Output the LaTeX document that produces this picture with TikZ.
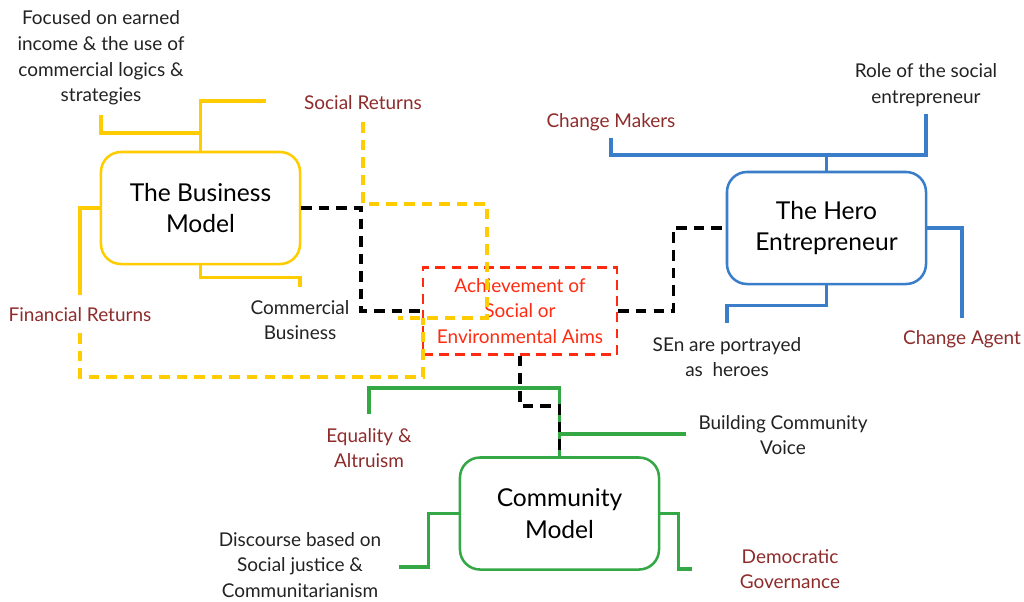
\documentclass[tikz,border=0pt]{standalone}
\usepackage{fontspec}
\setmainfont{Lato}
\usepackage{xcolor}
\usepackage{tikz}
\usetikzlibrary{calc,positioning}

\definecolor{bmyellow}{HTML}{FFCC00}
\definecolor{heroblue}{HTML}{3A7DC9}
\definecolor{cmgreen}{HTML}{34A845}
\definecolor{aimred}{HTML}{FF2A10}
\definecolor{labelred}{HTML}{8E2B2B}
\definecolor{textgray}{HTML}{222222}

\begin{document}
\begin{tikzpicture}[
    x=0.025cm, y=-0.025cm,%pixel grid, y down
    model/.style={
        rectangle, % shape
        rounded corners=0.5cm,
        minimum width=4.975cm, minimum height=2.8cm,
        inner sep=0pt,
        line width=1.8pt, %border
        fill=white,
        align=center,
        text=black,
        font=\fontsize{17.5}{22.5}\selectfont
      },
    aimbox/.style={
        rectangle,
        minimum width=4.85cm, minimum height=2.175cm,
        inner sep=0pt,
        draw=aimred, line width=1.9pt,
        dash pattern=on 7pt off 4.5pt,
        align=center,
        text=aimred,
        font=\fontsize{13.5}{18.3}\selectfont
      },
    lbl/.style={align=center, text=textgray, inner sep=1pt,
        font=\fontsize{13.5}{18.3}\selectfont},
    rlbl/.style={lbl, text=labelred},
    % the brackets
    bar/.style={line width=2.2pt},
    dline/.style={line width=2.5pt, dash pattern=on 7.5pt off 5pt}
  ]
  \useasboundingbox (0,0) rectangle (1024,601);

  % the three models and the aims
  \node (bm) [model, draw=bmyellow] at (200.5,208) {The Business\\Model};
  \node (hero) [model, draw=heroblue] at (826.5,228) {The Hero\\Entrepreneur};
  \node (cm) [model, draw=cmgreen] at (559.5,513.5) {Community\\Model};
  \node (aims) [aimbox] at (520,311) {Achievement of\\Social or\\Environmental Aims};

  % labels
  \node (foc) [lbl] at (101,58) {Focused on earned\\income \& the use of\\commercial logics \&\\strategies};
  \node (soc) [rlbl] at (363,103) {Social Returns};
  \node (fin) [rlbl] at (80,315) {Financial Returns};
  \node (comb) [lbl] at (300,320) {Commercial\\Business};
  \node (chm) [rlbl] at (611,122) {Change Makers};
  \node (role) [lbl] at (926,85) {Role of the social\\entrepreneur};
  \node (sen) [lbl] at (727,357) {SEn are portrayed\\as\ \ heroes};
  \node (chag) [rlbl] at (962,339) {Change Agent};
  \node (eq) [rlbl] at (369,448) {Equality \&\\Altruism};
  \node (bcv) [lbl] at (783,435) {Building Community\\Voice};
  \node (disc) [lbl] at (300,565) {Discourse based on\\Social justice \&\\Communitarianism};
  \node (dem) [rlbl] at (790,569) {Democratic\\Governance};

  % free ends of the brackets
  \coordinate (fc1) at (101,115);
  \coordinate (fc2) at (266,101);
  \coordinate (fr1) at (80,295);
  \coordinate (cb1) at (300,287);
  \coordinate (sr1) at (363,122);
  \coordinate (fr2) at (80,333);
  \coordinate (cm1) at (611,138);
  \coordinate (ro1) at (926,114);
  \coordinate (ca1) at (962,318);
  \coordinate (sn1) at (727,323);
  \coordinate (eq1) at (369,414);
  \coordinate (bv1) at (686,434);
  \coordinate (ds1) at (399,567);
  \coordinate (dm1) at (692,569);
  \coordinate (k1) at (361,0);

  % business model
  \begin{scope}[bmyellow]
    \draw[bar] (bm.north) |- (fc2);
    \draw[bar] (bm.north |- 0,133) -| (fc1);
    \draw[bar] (bm.west) -| (fr1);
    \draw[bar] (bm.south) -- ++(0,12) -| (cb1);
    \draw[dline] (sr1) |- (487,204) -- (487,318) -- (398,318);
    \draw[dline] (fr2) |- (423,377) -- (423,318);
  \end{scope}

  % hero entrepreneur
  \begin{scope}[heroblue]
    \draw[bar] (hero.north) -- ++(0,-17);
    \draw[bar] (cm1) -- ++(0,17) -| (ro1);
    \draw[bar] (hero.east) -| (ca1);
    \draw[bar] (hero.south) -- ++(0,20) -| (sn1);
  \end{scope}

  % community model
  \begin{scope}[cmgreen]
    \draw[bar] (eq1) -- ++(0,-26) -| (cm.north);
    \draw[bar] (cm.north |- bv1) -- (bv1);
    \draw[bar] (cm.west) -- ++(-30,0) |- (ds1);
    \draw[bar] (cm.east) -- ++(18,0) |- (dm1);
  \end{scope}

  % links to the aims
  \draw[dline] (bm.east) -| (k1 |- aims.west) -- (aims.west);
  \draw[dline] (aims.east) -- ++(55,0) |- (hero.west);
  \draw[dline] (aims.south) -- ++(0,50) -| (cm.north);
\end{tikzpicture}
\end{document}
